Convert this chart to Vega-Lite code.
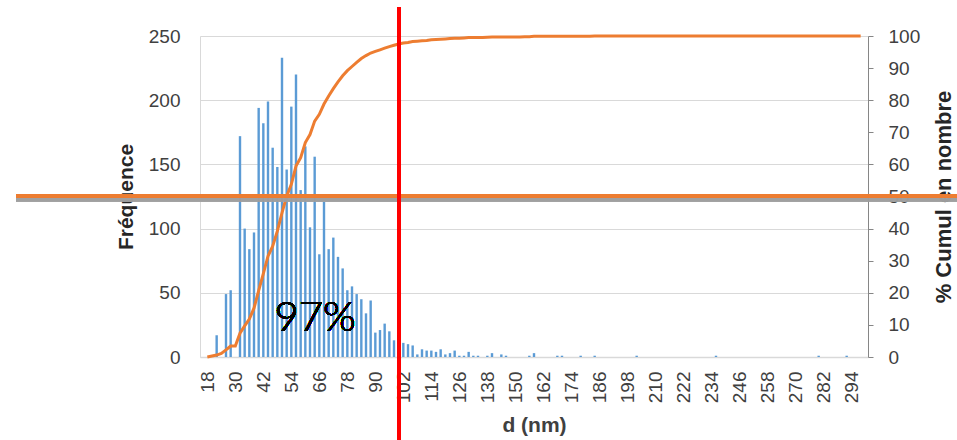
{
  "$schema": "https://vega.github.io/schema/vega-lite/v6.json",
  "width": 668,
  "height": 321,
  "autosize": {"type": "none"},
  "padding": {"left": 200, "top": 36, "right": 89, "bottom": 83},
  "background": "white",
  "config": {"view": {"stroke": null}, "axis": {"labelOverlap": false, "labelFlush": false}},
  "data": {"values": [
    {"d":18,"freq":0,"cumul":0},{"d":20,"freq":0,"cumul":0.3},{"d":22,"freq":17,"cumul":0.6},{"d":24,"freq":0,"cumul":1.1},
    {"d":26,"freq":49,"cumul":2.2},{"d":28,"freq":52,"cumul":3.4},{"d":30,"freq":0,"cumul":3.4},{"d":32,"freq":172,"cumul":7.4},
    {"d":34,"freq":100,"cumul":9.7},{"d":36,"freq":84,"cumul":11.8},{"d":38,"freq":97,"cumul":15.2},{"d":40,"freq":194,"cumul":20.7},
    {"d":42,"freq":182,"cumul":26.0},{"d":44,"freq":199,"cumul":31.4},{"d":46,"freq":163,"cumul":34.5},{"d":48,"freq":148,"cumul":39.2},
    {"d":50,"freq":233,"cumul":44.9},{"d":52,"freq":146,"cumul":50.1},{"d":54,"freq":195,"cumul":53.8},{"d":56,"freq":220,"cumul":59.5},
    {"d":58,"freq":130,"cumul":62.1},{"d":60,"freq":164,"cumul":66.8},{"d":62,"freq":101,"cumul":69.3},{"d":64,"freq":156,"cumul":73.5},
    {"d":66,"freq":80,"cumul":75.6},{"d":68,"freq":121,"cumul":78.8},{"d":70,"freq":84,"cumul":81.3},{"d":72,"freq":93,"cumul":83.6},
    {"d":74,"freq":78,"cumul":85.7},{"d":76,"freq":69,"cumul":87.6},{"d":78,"freq":52,"cumul":89.2},{"d":80,"freq":55,"cumul":90.5},
    {"d":82,"freq":49,"cumul":91.8},{"d":84,"freq":45,"cumul":93.0},{"d":86,"freq":34,"cumul":93.9},{"d":88,"freq":44,"cumul":94.7},
    {"d":90,"freq":19,"cumul":95.2},{"d":92,"freq":21,"cumul":95.7},{"d":94,"freq":26,"cumul":96.2},{"d":96,"freq":20,"cumul":96.7},
    {"d":98,"freq":13,"cumul":97.1},{"d":100,"freq":17,"cumul":97.5},{"d":102,"freq":11,"cumul":97.8},{"d":104,"freq":10,"cumul":98.0},
    {"d":106,"freq":9,"cumul":98.3},{"d":108,"freq":2,"cumul":98.4},{"d":110,"freq":6,"cumul":98.5},{"d":112,"freq":5,"cumul":98.6},
    {"d":114,"freq":5,"cumul":98.8},{"d":116,"freq":4,"cumul":98.9},{"d":118,"freq":6,"cumul":99.0},{"d":120,"freq":2,"cumul":99.1},
    {"d":122,"freq":3,"cumul":99.2},{"d":124,"freq":5,"cumul":99.3},{"d":126,"freq":1,"cumul":99.3},{"d":128,"freq":1,"cumul":99.4},
    {"d":130,"freq":4,"cumul":99.5},{"d":132,"freq":1,"cumul":99.5},{"d":134,"freq":1,"cumul":99.5},{"d":136,"freq":0,"cumul":99.5},
    {"d":138,"freq":1,"cumul":99.6},{"d":140,"freq":3,"cumul":99.7},{"d":142,"freq":0,"cumul":99.7},{"d":144,"freq":2,"cumul":99.7},
    {"d":146,"freq":1,"cumul":99.7},{"d":148,"freq":0,"cumul":99.7},{"d":150,"freq":0,"cumul":99.7},{"d":152,"freq":0,"cumul":99.7},
    {"d":154,"freq":0,"cumul":99.8},{"d":156,"freq":1,"cumul":99.8},{"d":158,"freq":3,"cumul":99.9},{"d":160,"freq":0,"cumul":99.9},
    {"d":162,"freq":0,"cumul":99.9},{"d":164,"freq":0,"cumul":99.9},{"d":166,"freq":0,"cumul":99.9},{"d":168,"freq":1,"cumul":99.9},
    {"d":170,"freq":1,"cumul":99.9},{"d":172,"freq":0,"cumul":99.9},{"d":174,"freq":0,"cumul":99.9},{"d":176,"freq":0,"cumul":99.9},
    {"d":178,"freq":1,"cumul":99.95},{"d":180,"freq":0,"cumul":99.95},{"d":182,"freq":0,"cumul":99.95},{"d":184,"freq":1,"cumul":100},
    {"d":186,"freq":0,"cumul":100},{"d":188,"freq":0,"cumul":100},{"d":190,"freq":0,"cumul":100},{"d":192,"freq":0,"cumul":100},
    {"d":194,"freq":0,"cumul":100},{"d":196,"freq":0,"cumul":100},{"d":198,"freq":0,"cumul":100},{"d":200,"freq":0,"cumul":100},
    {"d":202,"freq":1,"cumul":100},{"d":204,"freq":0,"cumul":100},{"d":206,"freq":0,"cumul":100},{"d":208,"freq":0,"cumul":100},
    {"d":210,"freq":0,"cumul":100},{"d":212,"freq":0,"cumul":100},{"d":214,"freq":0,"cumul":100},{"d":216,"freq":0,"cumul":100},
    {"d":218,"freq":0,"cumul":100},{"d":220,"freq":0,"cumul":100},{"d":222,"freq":0,"cumul":100},{"d":224,"freq":0,"cumul":100},
    {"d":226,"freq":0,"cumul":100},{"d":228,"freq":0,"cumul":100},{"d":230,"freq":0,"cumul":100},{"d":232,"freq":0,"cumul":100},
    {"d":234,"freq":0,"cumul":100},{"d":236,"freq":1,"cumul":100},{"d":238,"freq":0,"cumul":100},{"d":240,"freq":0,"cumul":100},
    {"d":242,"freq":0,"cumul":100},{"d":244,"freq":0,"cumul":100},{"d":246,"freq":0,"cumul":100},{"d":248,"freq":0,"cumul":100},
    {"d":250,"freq":0,"cumul":100},{"d":252,"freq":0,"cumul":100},{"d":254,"freq":0,"cumul":100},{"d":256,"freq":0,"cumul":100},
    {"d":258,"freq":0,"cumul":100},{"d":260,"freq":0,"cumul":100},{"d":262,"freq":0,"cumul":100},{"d":264,"freq":0,"cumul":100},
    {"d":266,"freq":0,"cumul":100},{"d":268,"freq":0,"cumul":100},{"d":270,"freq":0,"cumul":100},{"d":272,"freq":0,"cumul":100},
    {"d":274,"freq":0,"cumul":100},{"d":276,"freq":0,"cumul":100},{"d":278,"freq":0,"cumul":100},{"d":280,"freq":1,"cumul":100},
    {"d":282,"freq":0,"cumul":100},{"d":284,"freq":0,"cumul":100},{"d":286,"freq":0,"cumul":100},{"d":288,"freq":0,"cumul":100},
    {"d":290,"freq":0,"cumul":100},{"d":292,"freq":1,"cumul":100},{"d":294,"freq":0,"cumul":100},{"d":296,"freq":0,"cumul":100},
    {"d":298,"freq":0,"cumul":100}
  ]},
  "layer": [
    {
      "mark": {"type": "bar", "size": 2.4, "color": "#5b9bd5"},
      "encoding": {
        "x": {
          "field": "d", "type": "quantitative",
          "scale": {"domain": [17, 299], "nice": false, "zero": false},
          "axis": {
            "values": [18,30,42,54,66,78,90,102,114,126,138,150,162,174,186,198,210,222,234,246,258,270,282,294],
            "tickCount": 40,
            "labelAngle": 270, "labelFont": "Liberation Sans", "labelFontSize": 19, "labelColor": "#404040",
            "labelPadding": 14, "labelOverlap": false, "labelFlush": false,
            "ticks": false, "grid": false, "domainColor": "#d9d9d9", "domainWidth": 1.5,
            "title": "d (nm)", "titleFont": "Liberation Sans", "titleFontSize": 21, "titleFontWeight": "bold",
            "titleColor": "#404040", "titlePadding": 12
          }
        },
        "y": {
          "field": "freq", "type": "quantitative",
          "scale": {"domain": [0, 250], "nice": false},
          "axis": {
            "orient": "left", "values": [0,50,100,150,200,250], "tickCount": 20,
            "grid": true, "gridColor": "#d9d9d9", "domainColor": "#d9d9d9", "ticks": false,
            "labelFont": "Liberation Sans", "labelFontSize": 19, "labelColor": "#404040", "labelPadding": 20,
            "title": "Fréquence", "titleFont": "Liberation Sans", "titleFontSize": 21, "titleFontWeight": "bold",
            "titleColor": "#262626", "titlePadding": 12
          }
        }
      }
    },
    {
      "layer": [
        {
          "mark": {"type": "line", "color": "#ed7d31", "strokeWidth": 3},
          "encoding": {
            "x": {"field": "d", "type": "quantitative"},
            "y": {
              "field": "cumul", "type": "quantitative",
              "scale": {"domain": [0, 100], "nice": false},
              "axis": {
                "orient": "right", "values": [0,10,20,30,40,50,60,70,80,90,100], "tickCount": 20,
                "labelOverlap": false,
                "grid": false, "domainColor": "#868686", "ticks": true, "tickColor": "#868686", "tickSize": 5,
                "labelFont": "Liberation Sans", "labelFontSize": 19, "labelColor": "#404040", "labelPadding": 15,
                "title": "% Cumul en nombre", "titleFont": "Liberation Sans", "titleFontSize": 22, "titleFontWeight": "bold",
                "titleColor": "#262626", "titleAngle": 270, "titlePadding": 36
              }
            }
          }
        },
        {
          "mark": {"type": "rule", "color": "#a0a0a0", "strokeOpacity": 0.2, "strokeWidth": 4, "clip": false},
          "encoding": {"x": {"datum": -64}, "x2": {"datum": 340}, "y": {"datum": 49.1}}
        },
        {
          "mark": {"type": "rule", "color": "#ed7d31", "strokeWidth": 3, "clip": false},
          "encoding": {"x": {"datum": -64}, "x2": {"datum": 340}, "y": {"datum": 50.2}}
        },
        {
          "mark": {"type": "rule", "color": "#ff0000", "strokeWidth": 3, "clip": false},
          "encoding": {"x": {"datum": 100.3}, "y": {"datum": 108.8}, "y2": {"datum": -30}}
        },
        {
          "mark": {"type": "text", "font": "Lato", "fontWeight": 300, "fontSize": 42, "color": "#000000", "baseline": "middle", "align": "center"},
          "encoding": {"x": {"datum": 64.2}, "y": {"datum": 12.1}, "text": {"value": "97%"}}
        }
      ]
    }
  ],
  "resolve": {"scale": {"y": "independent"}}
}
